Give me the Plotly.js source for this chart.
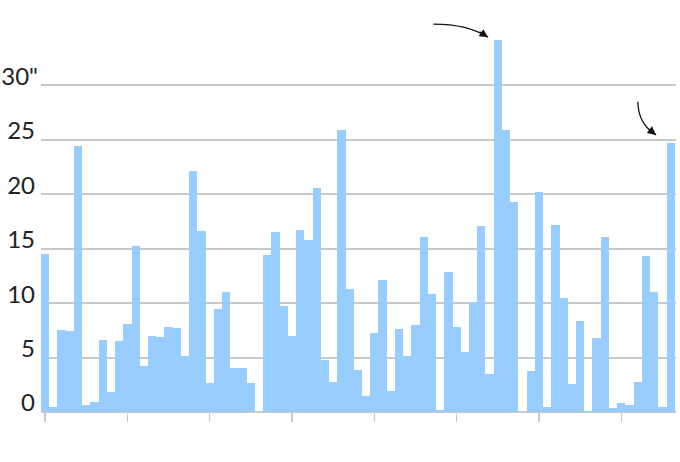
<!DOCTYPE html>
<html>
<head>
<meta charset="utf-8">
<script src="https://cdn.plot.ly/plotly-3.0.1.min.js"></script>
<style>
  html, body { margin: 0; padding: 0; background: #fff; }
  #chart { width: 680px; height: 462px; }
</style>
</head>
<body>
<div id="chart"></div>
<script>
// Years (one bar each)
const years = [
  1940,1941,1942,1943,1944,1945,1946,1947,1948,1949,
  1950,1951,1952,1953,1954,1955,1956,1957,1958,1959,
  1960,1961,1962,1963,1964,1965,1966,1967,1968,1969,
  1970,1971,1972,1973,1974,1975,1976,1977,1978,1979,
  1980,1981,1982,1983,1984,1985,1986,1987,1988,1989,
  1990,1991,1992,1993,1994,1995,1996,1997,1998,1999,
  2000,2001,2002,2003,2004,2005,2006,2007,2008,2009,
  2010,2011,2012,2013,2014,2015,2016
];

// Values (inches)
const values = [
  14.5, 0.5, 7.5, 7.4, 24.4, 0.6, 0.9, 6.6, 1.8, 6.5,
  8.1, 15.2, 4.2, 7.0, 6.9, 7.8, 7.7, 5.1, 22.1, 16.6,
  2.7, 9.5, 11.0, 4.0, 4.0, 2.7, 0.0, 14.4, 16.5, 9.7,
  7.0, 16.7, 15.8, 20.6, 4.8, 2.8, 25.9, 11.3, 3.9, 1.5,
  7.3, 12.1, 1.9, 7.6, 5.1, 8.0, 16.1, 10.8, 0.2, 12.9,
  7.8, 5.5, 10.1, 17.1, 3.5, 34.2, 25.9, 19.3, 0.0, 3.8,
  20.2, 0.5, 17.2, 10.5, 2.6, 8.4, 0.1, 6.8, 16.1, 0.4,
  0.8, 0.6, 2.8, 14.3, 11.0, 0.5, 24.7
];

const xTickVals = [1940, 1950, 1960, 1970, 1980, 1990, 2000, 2010];
const yTickVals = [0, 5, 10, 15, 20, 25, 30];
const yTickText = ['0\u2009', '5\u2009', '10\u2009', '15\u2009', '20\u2009', '25\u2009', '30"'];

const barColor = '#99CCFF';
const gridColor = '#c8c8c8';

const trace = {
  type: 'bar',
  x: years,
  y: values,
  marker: { color: barColor, line: { width: 0 } },
  hoverinfo: 'x+y'
};

// Curved arrow paths (decorative callouts), in data coordinates
const arrow1 = 'M 1987.18 35.63 Q 1991.4 35.63 1993.82 34.41';
const arrow2 = 'M 2012.01 28.50 Q 2012.05 26.46 2014.23 25.45';

const layout = {
  width: 680,
  height: 462,
  margin: { l: 41, r: 4, t: 20, b: 50 },
  paper_bgcolor: '#ffffff',
  plot_bgcolor: '#ffffff',
  bargap: 0,
  showlegend: false,
  font: { family: 'Lato, "Open Sans", sans-serif', color: '#222222', size: 24 },
  xaxis: {
    range: [1939.5, 2016.65],
    tickvals: xTickVals,
    showticklabels: false,
    ticks: 'outside',
    ticklen: 9,
    tickwidth: 1.5,
    tickcolor: gridColor,
    showgrid: false,
    zeroline: false,
    showline: false,
    fixedrange: true
  },
  yaxis: {
    range: [0, 36],
    tickvals: yTickVals,
    ticktext: yTickText,
    ticks: '',
    ticklabelshift: -9,
    ticklabelstandoff: 2,
    showgrid: true,
    gridcolor: gridColor,
    gridwidth: 2,
    zeroline: true,
    zerolinecolor: gridColor,
    zerolinewidth: 2,
    showline: false,
    tickfont: { family: 'Lato, "Open Sans", sans-serif', size: 24, color: '#222222' },
    fixedrange: true
  },
  shapes: [
    { type: 'path', xref: 'x', yref: 'y', path: arrow1, line: { color: '#111111', width: 1.3 } },
    { type: 'path', xref: 'x', yref: 'y', path: arrow2, line: { color: '#111111', width: 1.3 } }
  ],
  annotations: [
    { x: 1993.82, y: 34.41, xref: 'x', yref: 'y', text: '', showarrow: true,
      arrowhead: 2, arrowsize: 1.3, arrowwidth: 1.3, arrowcolor: '#111111', ax: -10, ay: -6.5 },
    { x: 2014.23, y: 25.45, xref: 'x', yref: 'y', text: '', showarrow: true,
      arrowhead: 2, arrowsize: 1.3, arrowwidth: 1.3, arrowcolor: '#111111', ax: -9, ay: -7 }
  ]
};

Plotly.newPlot('chart', [trace], layout, { displayModeBar: false, staticPlot: true });
</script>
</body>
</html>
